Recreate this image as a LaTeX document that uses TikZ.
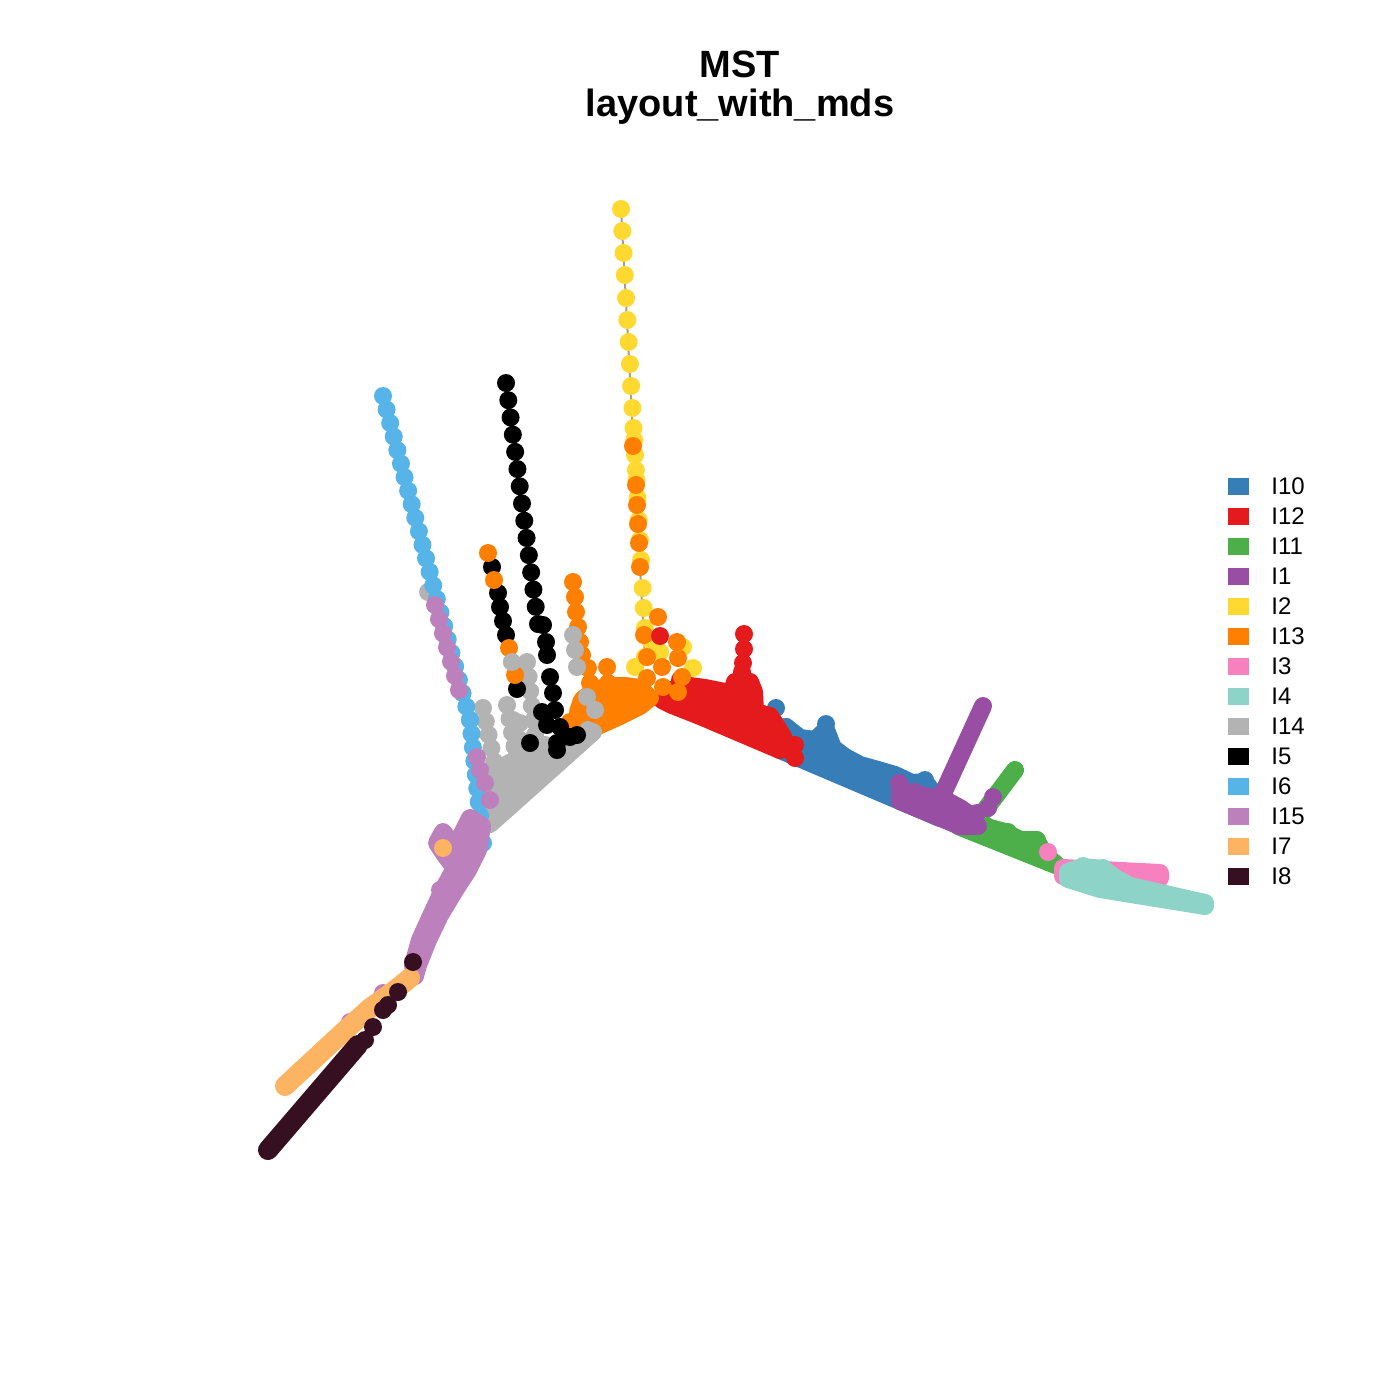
\documentclass[tikz,border=0pt]{standalone}
\usepackage{fontspec}
\setmainfont{Liberation Sans}
\usetikzlibrary{calc}
\definecolor{cTen}{HTML}{377EB8}
\definecolor{cTwelve}{HTML}{E41A1C}
\definecolor{cEleven}{HTML}{4DAF4A}
\definecolor{cOne}{HTML}{984EA3}
\definecolor{cTwo}{HTML}{FFD92F}
\definecolor{cThirteen}{HTML}{FF7F00}
\definecolor{cThree}{HTML}{F781BF}
\definecolor{cFour}{HTML}{8DD3C7}
\definecolor{cFourteen}{HTML}{B3B3B3}
\definecolor{cFive}{HTML}{000000}
\definecolor{cSix}{HTML}{56B4E9}
\definecolor{cFifteen}{HTML}{BC80BD}
\definecolor{cSeven}{HTML}{FDB462}
\definecolor{cEight}{HTML}{360F20}
\tikzset{every picture/.style={line width=0.75pt}}
\tikzset{
blob/.style={line width=18pt, line join=round, line cap=round},
bar/.style={line width=18pt, line cap=round},
keybox/.style={minimum width=21pt, minimum height=17pt, inner sep=0pt},
keytext/.style={anchor=west, inner sep=0pt, font=\fontsize{24}{28}\selectfont},
titletext/.style={anchor=base, inner sep=0pt, font=\bfseries\fontsize{38}{44}\selectfont}}
% row of dots: colour, x1, y1, x2, y2, steps
\newcommand{\dotrun}[6]{\foreach \k in {0,...,#6}{\fill[#1] ($(#2,#3)!\k/#6!(#4,#5)$) circle (9pt);}}
% loose dots: colour, list x/y
\newcommand{\pts}[2]{\foreach \px/\py in {#2}{\fill[#1] (\px,\py) circle (9pt);}}

\begin{document}
\begin{tikzpicture}[x=1pt,y=1pt,yscale=-1]
\useasboundingbox (0,0) rectangle (1400,1400);

%Title
\node[titletext] (title1) at (740,77) {MST};
\node[titletext] (title2) at (740,116) {layout\_with\_mds};

%Edge: yellow branch
\draw[gray!75, line width=2pt] (621,208) -- (645,660);

%Branch: I2
\pts{cTwo}{621/209,622.3/231,623.6/253,624.8/275,626.1/298,627.3/320,628.6/342,629.9/364,631.1/386,632.4/408,633.5/428,634.2/440,635/455,635.9/470,636.5/480,637.5/498,638.7/520,639.9/540,641/560,642.6/588,643.7/608,644.9/628,635/667,645/657,660/652,683/647,693/668,650/640}

%Right arm: I10
\filldraw[blob, draw=cTen, fill=cTen] (776,730) -- (786,727) -- (800,738) -- (815,740) -- (826,730) -- (833,748) -- (845,757) -- (860,765) -- (878,770) -- (895,775) -- (912,783) -- (925,782) -- (935,795) -- (940,818) -- (780,750) -- cycle;
\pts{cTen}{776/708,826/724,786/727,837/752,850/763,868/768,885/773,915/785,925/780,808/742,870/772}

%Right arm: I11
\draw[bar, cEleven] (1015,770) -- (985,810);
\filldraw[blob, draw=cEleven, fill=cEleven] (958,818) -- (975,820) -- (990,828) -- (1005,832) -- (1020,840) -- (1036,840) -- (1045,855) -- (1058,866) -- (958,826) -- cycle;
\pts{cEleven}{965/812,1008/832,1037/840,1020/845}

%Right arm: I1
\draw[bar, cOne] (983,706) -- (940,800);
\filldraw[blob, draw=cOne, fill=cOne] (900,790) -- (920,795) -- (945,800) -- (960,808) -- (970,815) -- (975,826) -- (960,826) -- (900,801) -- cycle;
\pts{cOne}{899/783,902/795,977/813,978/826,993/797,988/808,915/792}

%Right arm: I3
\filldraw[blob, draw=cThree, fill=cThree] (1063,868) -- (1160,873) -- (1160,878) -- (1063,876) -- cycle;
\pts{cThree}{1048/852}

%Right arm: I4
\filldraw[blob, draw=cFour, fill=cFour] (1068,872) -- (1083,867) -- (1103,869) -- (1115,878) -- (1130,886) -- (1205,903) -- (1205,906) -- (1100,889) -- (1068,879) -- cycle;
\pts{cFour}{1103/868,1083/866}

%Right arm: I12
\filldraw[blob, draw=cTwelve, fill=cTwelve] (662,700) -- (672,690) -- (690,686) -- (705,688) -- (725,692) -- (733,690) -- (735,682) -- (750,682) -- (754,692) -- (755,712) -- (770,716) -- (782,735) -- (788,748) -- (780,750) -- (700,716) -- (672,705) -- cycle;
\pts{cTwelve}{744/634,744/649,743/663,742/672,735/685,750/685,735/698,752/698,733/710,752/710,745/720,760/725,772/720,773/736,795/745,795/758,700/688,686/690,680/680,712/698,766/737}

%Left arm: I13
\filldraw[blob, draw=cThirteen, fill=cThirteen] (650,698) -- (640,688) -- (625,686) -- (610,686) -- (595,690) -- (582,700) -- (578,712) -- (580,725) -- (588,731) -- (600,725) -- (620,716) -- (640,706) -- cycle;
\pts{cThirteen}{573/582,575/597,576/612,578/627,580/642,582/655,588/668,590/683,598/695,607/667,608/683,583/700,578/715,570/722,540/745,633/446,636/485,637/505,638/524,639/543,640/567,644/635,658/617,647/657,662/667,677/642,678/658,682/677,678/692,647/678,663/687}
\pts{cTwelve}{660/636}

%Left arm: I14
\pts{cFourteen}{428/592}
\filldraw[blob, draw=cFourteen, fill=cFourteen] (497,770) -- (515,760) -- (530,745) -- (545,745) -- (560,750) -- (580,738) -- (593,732) -- (490,824) -- (485,800) -- cycle;
\dotrun{cFourteen}{483}{708}{497}{775}{5}
\dotrun{cFourteen}{507}{705}{517}{760}{4}
\dotrun{cFourteen}{527}{662}{535}{735}{5}
\pts{cFourteen}{512/662,522/668,513/720,520/723,520/740,573/635,575/650,577/667,587/697,595/710,588/730}

%Branch: I5
\dotrun{cFive}{506}{383}{538}{624}{14}
\pts{cFive}{543/625,546/642,547/655,550/677,553/693,555/710,542/712,547/725,560/727,577/735,557/743,530/743,557/750,570/737,517/689,492/567,498/593,500/607,503/621,506/635}
\pts{cThirteen}{488/553,494/580,509/648,515/675}
\pts{cFourteen}{512/662}

%Branch: I6
\dotrun{cSix}{383}{396}{444}{626}{17}
\dotrun{cSix}{444}{626}{470}{720}{7}
\dotrun{cSix}{470}{720}{483}{843}{9}

%Branch: I15
\dotrun{cFifteen}{435}{605}{459}{690}{6}
\pts{cFifteen}{477/757,480/770,485/783,490/800,350/1022,383/993}
\filldraw[blob, draw=cFifteen, fill=cFifteen] (443,832) -- (455,848) -- (470,818) -- (482,826) -- (478,850) -- (468,870) -- (455,890) -- (440,915) -- (428,940) -- (418,965) -- (415,976) -- (413,965) -- (420,940) -- (430,918) -- (443,890) -- (455,868) -- (445,855) -- (437,843) -- cycle;
\pts{cFifteen}{430/918,422/937,440/890,455/870,445/895,433/925,465/860}

%Branch: I7
\draw[bar, cSeven, line width=20pt, line join=round] (410,978) -- (395,990) -- (370,1008) -- (340,1035) -- (285,1086);
\pts{cSeven}{443/848,408/980}

%Branch: I8
\draw[bar, cEight, line width=20pt] (358,1045) -- (268,1150);
\pts{cEight}{413/962,398/992,383/1010,388/1005,373/1027,365/1040}

%Legend
\foreach \c/\t [count=\i] in {cTen/I10,cTwelve/I12,cEleven/I11,cOne/I1,cTwo/I2,cThirteen/I13,cThree/I3,cFour/I4,cFourteen/I14,cFive/I5,cSix/I6,cFifteen/I15,cSeven/I7,cEight/I8}{
\node[keybox, fill=\c] (key\i) at (1238.5,{456+30*\i}) {};
\node[keytext] (lab\i) at (1271,{456+30*\i}) {\t};
}

\end{tikzpicture}
\end{document}
